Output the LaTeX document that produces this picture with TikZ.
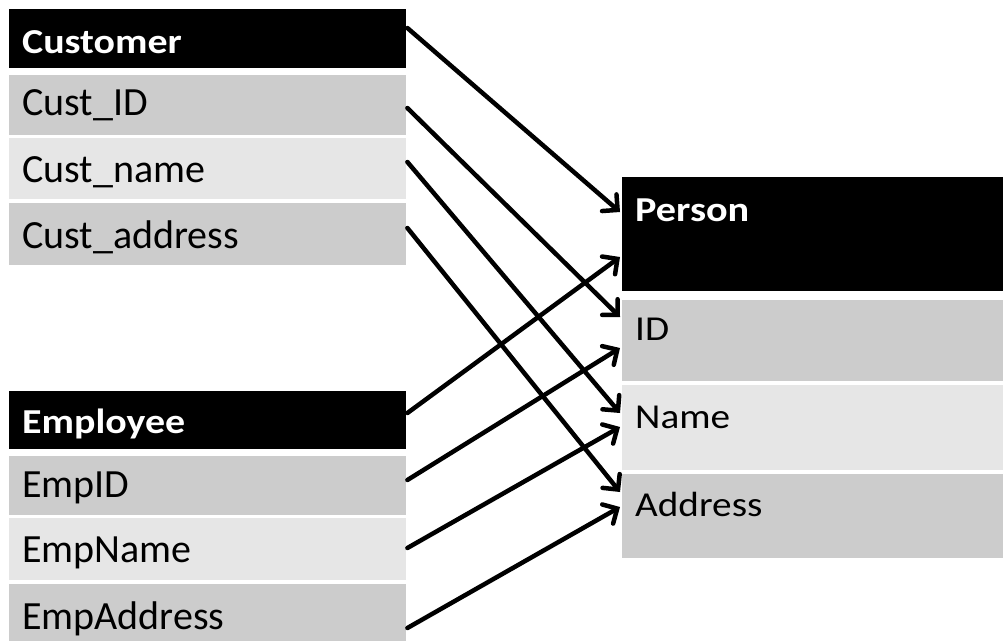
\documentclass[tikz,border=0pt]{standalone}
\usepackage{fontspec}
\usepackage{graphicx}
\setmainfont{Carlito}
\usetikzlibrary{arrows.meta}
\definecolor{rowgrey}{RGB}{204,204,204}
\definecolor{rowlight}{RGB}{230,230,230}
\tikzset{
  hdrbox/.style={rectangle, fill=black, inner sep=0pt, anchor=north west},
  greybox/.style={rectangle, fill=rowgrey, inner sep=0pt, anchor=north west},
  lightbox/.style={rectangle, fill=rowlight, inner sep=0pt, anchor=north west},
  leftcol/.style={minimum width=397pt},
  rightcol/.style={minimum width=381pt},
  hdrtext/.style={anchor=base west, inner sep=0pt, text=white,
    font=\bfseries\fontsize{35}{40}\selectfont},
  lefttext/.style={anchor=base west, inner sep=0pt, font=\fontsize{40}{48}\selectfont},
  righttext/.style={anchor=base west, inner sep=0pt, font=\fontsize{35}{42}\selectfont},
  link/.style={line width=4.5pt, line cap=round,
    -{Straight Barb[length=11pt,width=22pt,line cap=round]}}
}
\begin{document}
\begin{tikzpicture}[x=1pt,y=-1pt]
\clip (0,0) rectangle (1003,640);
\fill[white] (0,0) rectangle (1003,640);

% Customer table
\node[hdrbox, leftcol, minimum height=59pt] (cust) at (9,9) {};
\node[greybox, leftcol, minimum height=60pt] (cid) at (9,75) {};
\node[lightbox, leftcol, minimum height=61pt] (cname) at (9,138) {};
\node[greybox, leftcol, minimum height=62pt] (caddr) at (9,203) {};
\node[hdrtext] (tcust) at (22,53) {\scalebox{1.14}[1]{Customer}};
\node[lefttext] (tcid) at (22,115) {Cust\_ID};
\node[lefttext] (tcname) at (22,182) {Cust\_name};
\node[lefttext] (tcaddr) at (22,248) {Cust\_address};

% Employee table
\node[hdrbox, leftcol, minimum height=58pt] (emp) at (9,391) {};
\node[greybox, leftcol, minimum height=59pt] (eid) at (9,456) {};
\node[lightbox, leftcol, minimum height=62pt] (ename) at (9,518) {};
\node[greybox, leftcol, minimum height=62pt] (eaddr) at (9,584) {};
\node[hdrtext] (temp) at (22,433) {\scalebox{1.14}[1]{Employee}};
\node[lefttext] (teid) at (22,497) {EmpID};
\node[lefttext] (tename) at (22,562) {EmpName};
\node[lefttext] (teaddr) at (22,629) {EmpAddress};

% Person table
\node[hdrbox, rightcol, minimum height=114pt] (per) at (622,177) {};
\node[greybox, rightcol, minimum height=81pt] (pid) at (622,300) {};
\node[lightbox, rightcol, minimum height=85pt] (pname) at (622,385) {};
\node[greybox, rightcol, minimum height=84pt] (paddr) at (622,474) {};
\node[hdrtext] (tper) at (635,221) {\scalebox{1.15}[1]{Person}};
\node[righttext] (tpid) at (635,340) {\scalebox{1.12}[1]{ID}};
\node[righttext] (tpname) at (635,428) {\scalebox{1.12}[1]{Name}};
\node[righttext] (tpaddr) at (635,516) {\scalebox{1.12}[1]{Address}};

% Attribute mappings
\draw[link] ([shift={(1,19)}]cust.north east) -- ([shift={(-2,35)}]per.north west);
\draw[link] ([shift={(1,33)}]cid.north east) -- ([shift={(-2,17)}]pid.north west);
\draw[link] ([shift={(1,24)}]cname.north east) -- ([shift={(-2,28)}]pname.north west);
\draw[link] ([shift={(1,25)}]caddr.north east) -- ([shift={(-2,18)}]paddr.north west);
\draw[link] ([shift={(1,22)}]emp.north east) -- ([shift={(-2,80)}]per.north west);
\draw[link] ([shift={(1,24)}]eid.north east) -- ([shift={(-2,48)}]pid.north west);
\draw[link] ([shift={(1,30)}]ename.north east) -- ([shift={(-2,42)}]pname.north west);
\draw[link] ([shift={(1,44)}]eaddr.north east) -- ([shift={(-2,33)}]paddr.north west);
\end{tikzpicture}
\end{document}
